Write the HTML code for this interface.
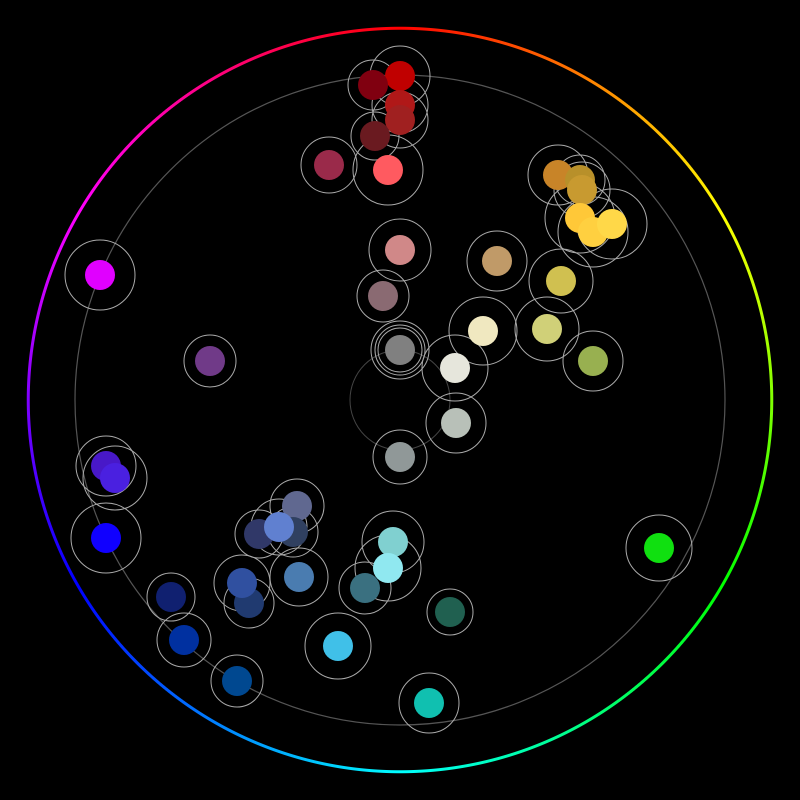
<!DOCTYPE html>
<html><head><meta charset="utf-8"><style>
html,body{margin:0;padding:0;background:#000;width:800px;height:800px;overflow:hidden}
#ring{position:absolute;left:0;top:0;width:800px;height:800px;border-radius:50%;
background:conic-gradient(from 0deg at 400px 400px,#f00,#ff0,#0f0,#0ff,#00f,#f0f,#f00);
-webkit-mask:radial-gradient(circle at 400px 400px,transparent 370px,#000 370.5px,#000 373px,transparent 373.5px);
mask:radial-gradient(circle at 400px 400px,transparent 370px,#000 370.5px,#000 373px,transparent 373.5px)}
svg{position:absolute;left:0;top:0}
</style></head><body>
<div id="ring"></div>
<svg width="800" height="800" viewBox="0 0 800 800">
<circle cx="400" cy="400" r="325" fill="none" stroke="#555" stroke-width="1.2"/>
<circle cx="400" cy="400" r="50" fill="none" stroke="#444" stroke-width="1"/>
<g fill="none" stroke="#aaa" stroke-width="1">
<circle cx="400" cy="76" r="30"/><circle cx="373" cy="85" r="25"/><circle cx="400" cy="105" r="28"/><circle cx="400" cy="120" r="28"/><circle cx="375" cy="136" r="24"/><circle cx="329" cy="165" r="28"/><circle cx="388" cy="170" r="35"/>
<circle cx="558" cy="175" r="30"/><circle cx="580" cy="180" r="25"/><circle cx="582" cy="190" r="28"/><circle cx="580" cy="218" r="35"/><circle cx="593" cy="232" r="35"/><circle cx="612" cy="224" r="35"/>
<circle cx="100" cy="275" r="35"/><circle cx="400" cy="250" r="31"/><circle cx="497" cy="261" r="30"/><circle cx="561" cy="281" r="32"/><circle cx="383" cy="296" r="26"/>
<circle cx="483" cy="331" r="34"/><circle cx="547" cy="329" r="32"/><circle cx="593" cy="361" r="30"/>
<circle cx="400" cy="350" r="22"/><circle cx="400" cy="350" r="25"/><circle cx="400" cy="350" r="29"/>
<circle cx="455" cy="368" r="33"/><circle cx="210" cy="361" r="26"/><circle cx="456" cy="423" r="30"/><circle cx="400" cy="457" r="27"/>
<circle cx="106" cy="466" r="30"/><circle cx="115" cy="478" r="32"/><circle cx="106" cy="538" r="35"/>
<circle cx="297" cy="506" r="27"/><circle cx="259" cy="534" r="24"/><circle cx="279" cy="527" r="28"/><circle cx="293" cy="532" r="25"/>
<circle cx="393" cy="542" r="31"/><circle cx="388" cy="568" r="33"/><circle cx="242" cy="583" r="28"/><circle cx="249" cy="603" r="25"/><circle cx="299" cy="577" r="29"/>
<circle cx="365" cy="588" r="26"/><circle cx="450" cy="612" r="23"/><circle cx="659" cy="548" r="33"/><circle cx="171" cy="597" r="24"/><circle cx="184" cy="640" r="27"/>
<circle cx="338" cy="646" r="33"/><circle cx="237" cy="681" r="26"/><circle cx="429" cy="703" r="30"/>
</g>
<g>
<circle cx="400" cy="76" r="15" fill="#c00000"/><circle cx="373" cy="85" r="15" fill="#800010"/><circle cx="400" cy="105" r="15" fill="#b01818"/><circle cx="400" cy="120" r="15" fill="#a02020"/><circle cx="375" cy="136" r="15" fill="#6a1a20"/><circle cx="329" cy="165" r="15" fill="#9a2a4a"/><circle cx="388" cy="170" r="15" fill="#ff5a60"/>
<circle cx="558" cy="175" r="15" fill="#c88428"/><circle cx="580" cy="180" r="15" fill="#b8902a"/><circle cx="582" cy="190" r="15" fill="#c89a30"/><circle cx="580" cy="218" r="15" fill="#ffc838"/><circle cx="593" cy="232" r="15" fill="#ffd040"/><circle cx="612" cy="224" r="15" fill="#ffd848"/>
<circle cx="100" cy="275" r="15" fill="#e000ff"/><circle cx="400" cy="250" r="15" fill="#d08888"/><circle cx="497" cy="261" r="15" fill="#c09a68"/><circle cx="561" cy="281" r="15" fill="#d0c050"/><circle cx="383" cy="296" r="15" fill="#8a6a72"/>
<circle cx="483" cy="331" r="15" fill="#f0e8c0"/><circle cx="547" cy="329" r="15" fill="#d0d078"/><circle cx="593" cy="361" r="15" fill="#98b050"/>
<circle cx="400" cy="350" r="15" fill="#808080"/><circle cx="455" cy="368" r="15" fill="#e6e6dc"/><circle cx="210" cy="361" r="15" fill="#703a88"/><circle cx="456" cy="423" r="15" fill="#b8c0b8"/><circle cx="400" cy="457" r="15" fill="#909898"/>
<circle cx="106" cy="466" r="15" fill="#4818c8"/><circle cx="115" cy="478" r="15" fill="#4a20e0"/><circle cx="106" cy="538" r="15" fill="#1000ff"/>
<circle cx="297" cy="506" r="15" fill="#606890"/><circle cx="259" cy="534" r="15" fill="#303868"/><circle cx="293" cy="532" r="15" fill="#304060"/><circle cx="279" cy="527" r="15" fill="#6080d0"/>
<circle cx="393" cy="542" r="15" fill="#80d0d0"/><circle cx="388" cy="568" r="15" fill="#90e8f0"/><circle cx="249" cy="603" r="15" fill="#203a70"/><circle cx="242" cy="583" r="15" fill="#3050a0"/><circle cx="299" cy="577" r="15" fill="#4a7cb0"/>
<circle cx="365" cy="588" r="15" fill="#3a7080"/><circle cx="450" cy="612" r="15" fill="#206050"/><circle cx="659" cy="548" r="15" fill="#10e010"/><circle cx="171" cy="597" r="15" fill="#102070"/><circle cx="184" cy="640" r="15" fill="#0030a0"/>
<circle cx="338" cy="646" r="15" fill="#40c0e8"/><circle cx="237" cy="681" r="15" fill="#004890"/><circle cx="429" cy="703" r="15" fill="#10c0b0"/>
</g>
</svg>
</body></html>
